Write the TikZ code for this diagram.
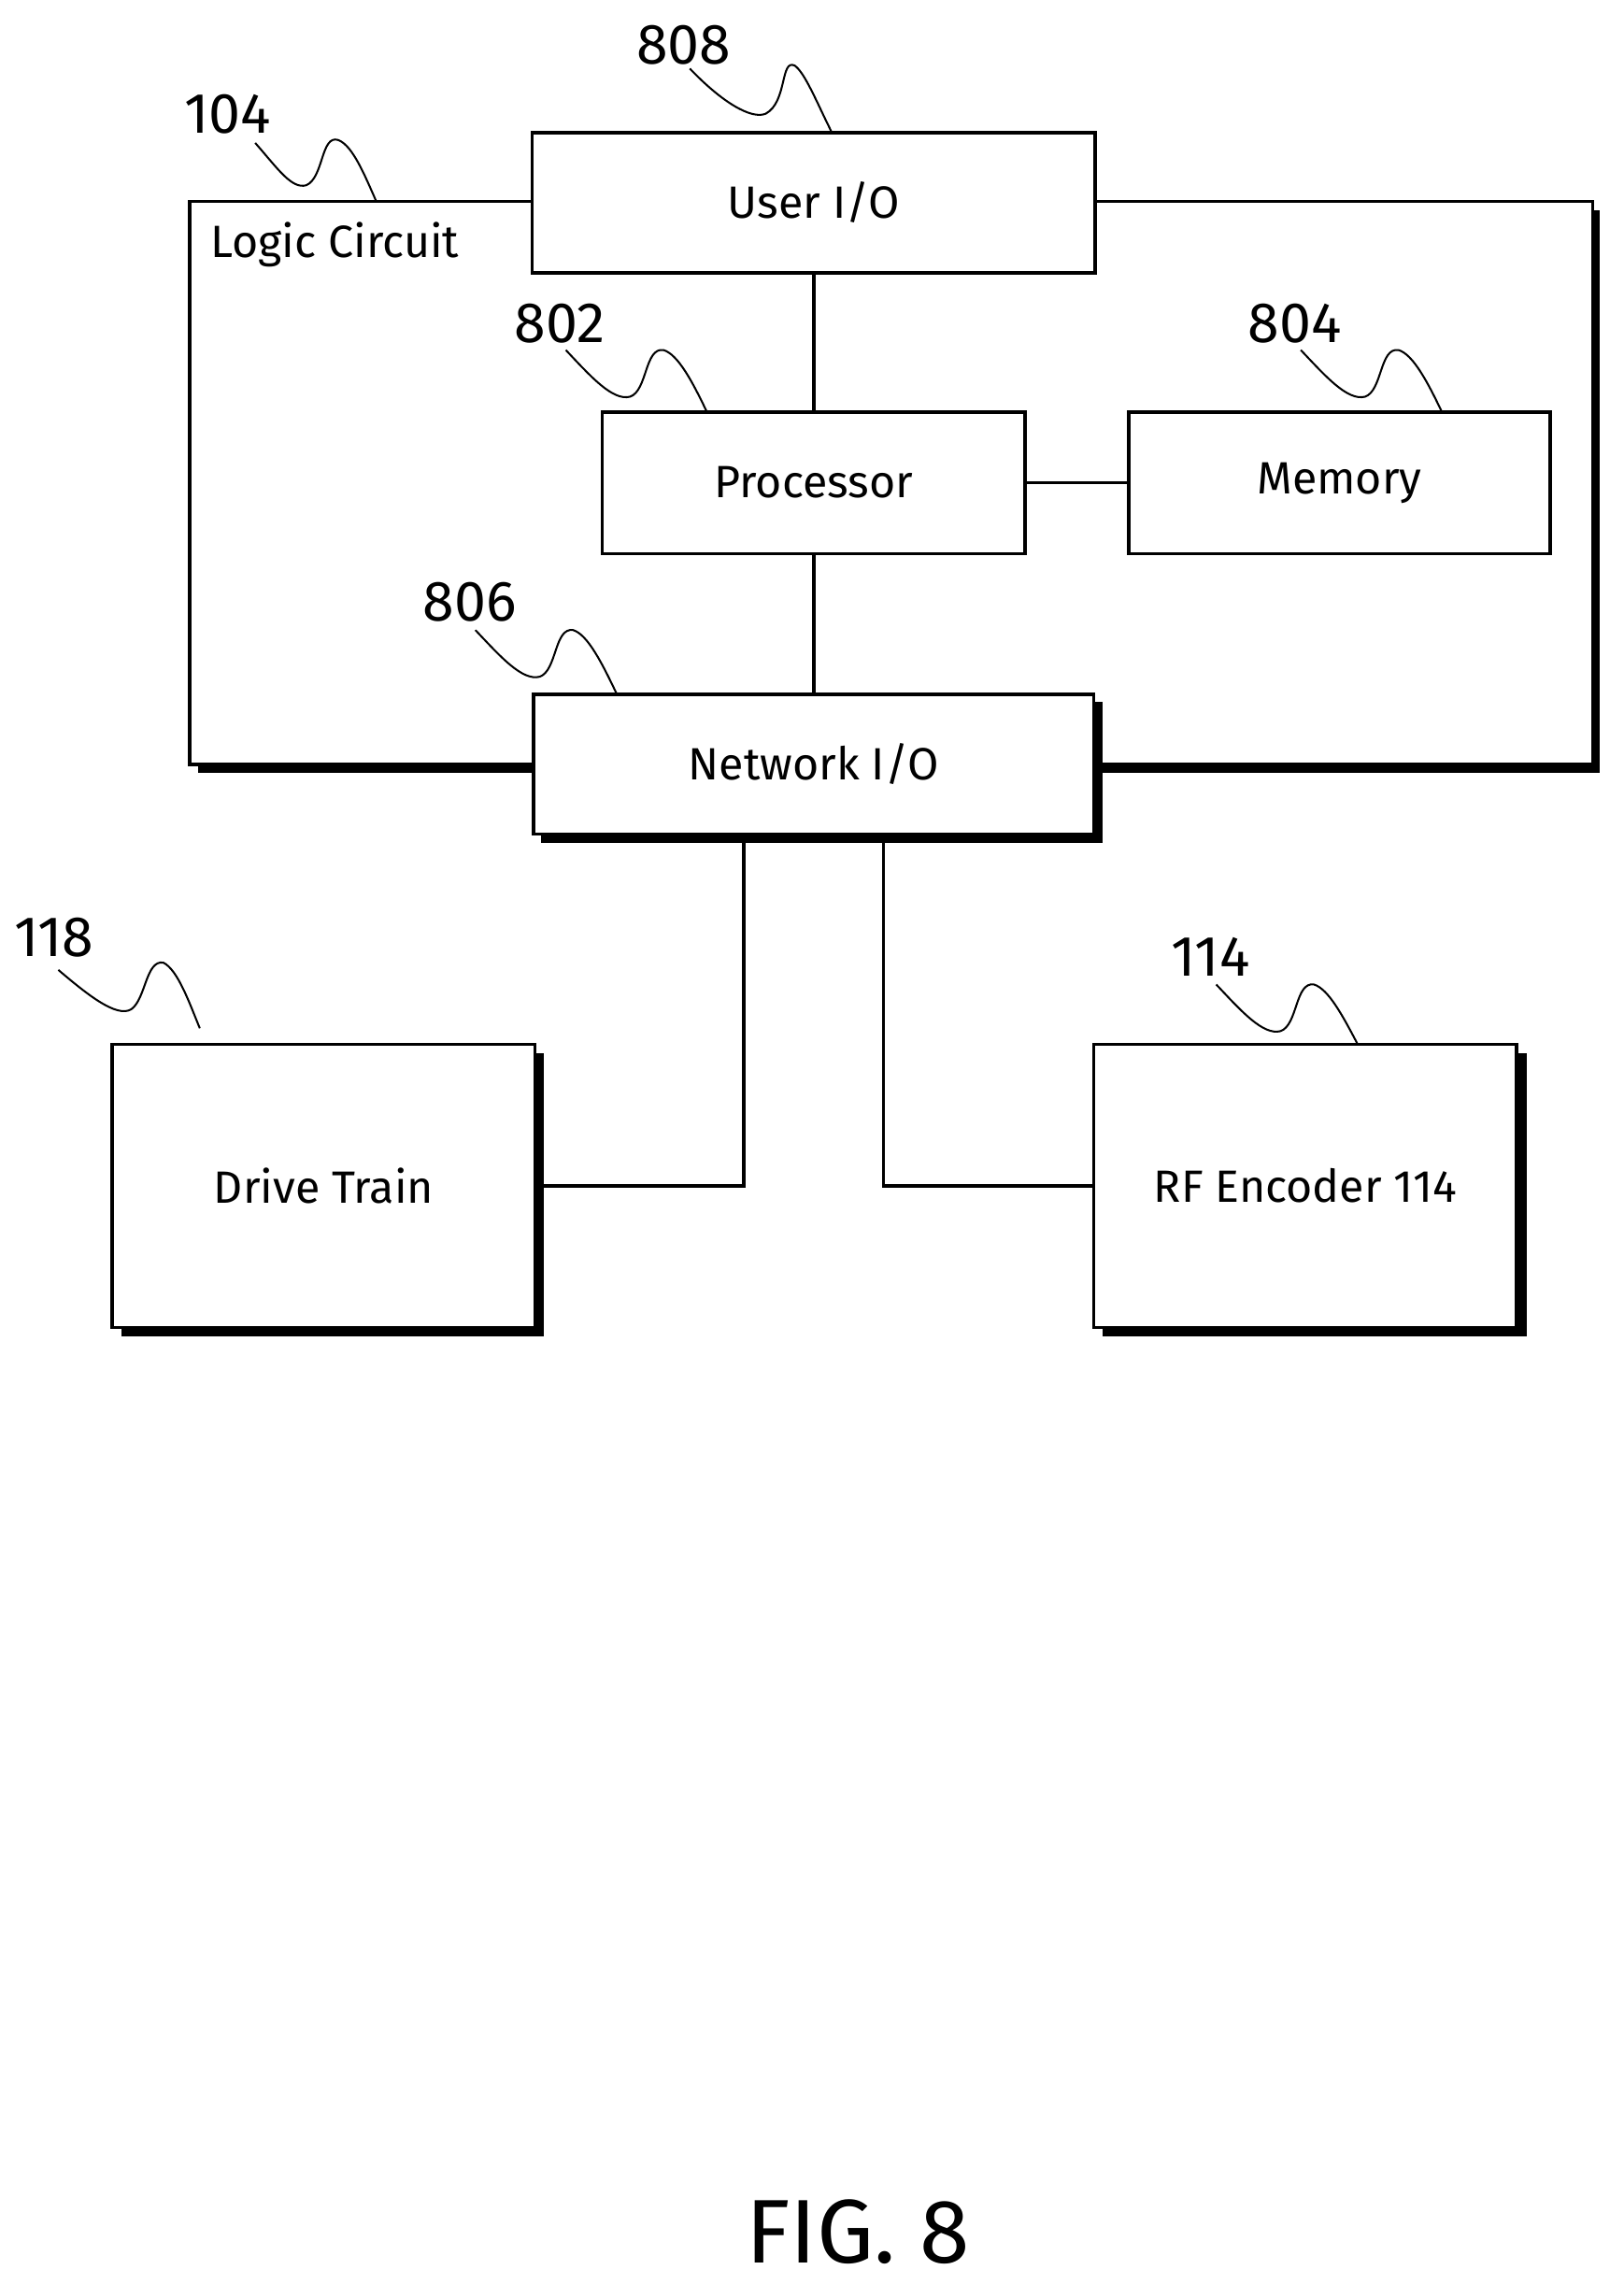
\documentclass[tikz,border=0pt]{standalone}
\usepackage{fontspec}
\setmainfont{Fira Sans}
\begin{document}
\begin{tikzpicture}[x=1pt,y=-1pt,
  box/.style={draw,fill=white,line width=2.2pt,inner sep=0pt,font=\fontsize{31}{34}\selectfont},
  lbl/.style={font=\fontsize{39}{40}\selectfont,inner sep=0pt},
  ln/.style={line width=2.2pt},
  sq/.style={line width=1.3pt}]
\useasboundingbox (0,0) rectangle (1113,1566);
% outer frame shadow
\fill (136,144) rectangle (1097,530);
\draw[fill=white,line width=2.2pt] (130,138) rectangle (1092,524);
\node[anchor=west,font=\fontsize{31}{34}\selectfont] (lc) at (141,168) {Logic Circuit};
\node[box,minimum width=386pt,minimum height=96pt] (uio) at (558,139) {User I/O};
\node[box,minimum width=290pt,minimum height=97pt] (proc) at (558,331) {Processor};
\node[box,minimum width=289pt,minimum height=97pt] (mem) at (918.5,331) {Memory};
% shadows
\fill (371,481) rectangle (756,578);
\node[box,minimum width=384pt,minimum height=96pt] (nio) at (558,524) {Network I/O};
\fill (83,722) rectangle (373,916);
\node[box,minimum width=290pt,minimum height=194pt] (dt) at (222,813) {Drive Train};
\fill (756,722) rectangle (1047,916);
\node[box,minimum width=290pt,minimum height=194pt] (rf) at (895,813) {RF Encoder 114};
\draw[ln] (uio.south) -- (proc.north);
\draw[ln] (proc.east) -- (mem.west);
\draw[ln] (proc.south) -- (nio.north);
\coordinate (n1) at (510,572); \coordinate (n2) at (606,572);
\draw[ln] (n1) |- (dt.east);
\draw[ln] (n2) |- (rf.west);
% labels
\node[lbl] (l808) at (469,31) {808};
\draw[sq] (473,47) .. controls (495,70) and (515,82) .. (525,78) .. controls (540,70) and (535,40) .. (545,45) .. controls (552,50) and (560,70) .. (570,90);
\node[lbl] (l104) at (156,78) {104};
\draw[sq] (175,98) .. controls (190,115) and (200,130) .. (210,127) .. controls (222,122) and (220,92) .. (232,96) .. controls (242,100) and (250,120) .. (258,138);
\node[lbl] (l802) at (384,222) {802};
\draw[sq] (388,240) .. controls (405,258) and (420,275) .. (432,272) .. controls (444,268) and (442,238) .. (455,240) .. controls (465,243) and (475,262) .. (485,283);
\node[lbl] (l804) at (888,222) {804};
\draw[sq] (892,240) .. controls (909,258) and (924,275) .. (936,272) .. controls (948,268) and (946,238) .. (959,240) .. controls (969,243) and (979,262) .. (989,283);
\node[lbl] (l806) at (322,413) {806};
\draw[sq] (326,432) .. controls (343,450) and (358,467) .. (370,464) .. controls (382,460) and (380,430) .. (393,432) .. controls (403,435) and (413,455) .. (423,476);
\node[lbl] (l118) at (37,643) {118};
\draw[sq] (40,665) .. controls (60,682) and (80,698) .. (90,692) .. controls (100,685) and (100,658) .. (112,660) .. controls (122,665) and (130,688) .. (137,705);
\node[lbl] (l114) at (830,656) {114};
\draw[sq] (834,675) .. controls (851,693) and (866,710) .. (878,707) .. controls (890,703) and (888,673) .. (901,675) .. controls (911,678) and (921,697) .. (931,716);
\node[font=\fontsize{62}{64}\selectfont,inner sep=0pt] (fig) at (588,1530) {FIG. 8};
\end{tikzpicture}
\end{document}
